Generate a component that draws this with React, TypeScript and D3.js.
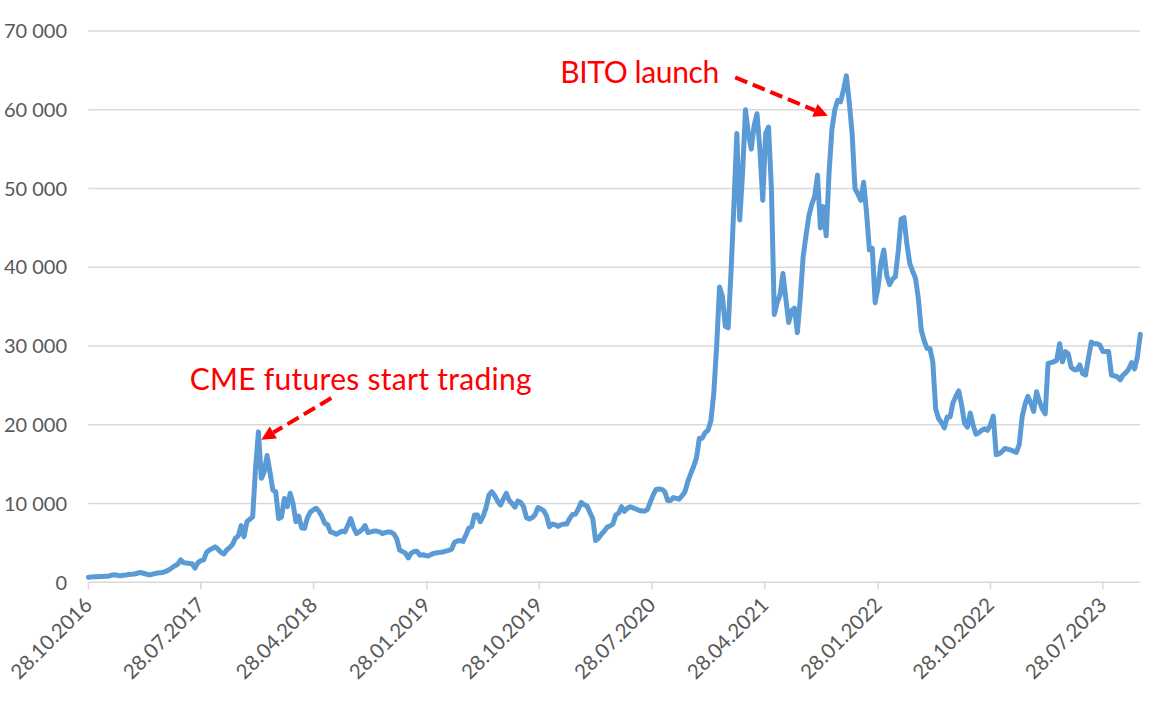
import React from "react";
import * as d3 from "d3";

// Weekly series, first point on 28.10.2016, one point every 7 days
const START_DATE = "2016-10-28";
const PRICES: number[] = [
  // 2016
  650, 680, 700, 720, 740, 750, 770, 780, 900, 960,
  // 2017
  900, 820, 900, 920, 1000, 1020, 1050, 1150, 1250, 1150,
  1050, 950, 1000, 1100, 1180, 1200, 1280, 1400, 1600, 1850,
  2100, 2300, 2850, 2500, 2450, 2400, 2350, 1800, 2500, 2750,
  2850, 3800, 4100, 4300, 4500, 4200, 3800, 3600, 4100, 4400,
  4800, 5600, 5900, 7200, 5800, 7700, 8000, 8300, 14500, 19100,
  // 2018
  13200, 14000, 16100, 14000, 11700, 11500, 8100, 8300, 10650, 9600,
  11300, 10000, 7700, 8400, 6900, 6850, 8200, 8900, 9200, 9400,
  9000, 8400, 7500, 7300, 6400, 6300, 6100, 6300, 6500, 6400,
  7200, 8100, 7000, 6200, 6400, 6700, 7200, 6300, 6400, 6500,
  6500, 6400, 6200, 6300, 6400, 6350, 6150, 5500, 4100, 3900,
  3700, 3100, 3700, 3900, 3950, 3450, 3500, 3400, 3350, 3550,
  // 2019
  3700, 3750, 3800, 3850, 3950, 4050, 4200, 5050, 5250, 5300,
  5200, 6000, 6900, 7050, 8550, 8550, 7700, 8400, 9500, 11100,
  11500, 11000, 10300, 9800, 10600, 11300, 10400, 10000, 9550, 10300,
  10150, 9600, 8200, 8050, 8200, 8600, 9500, 9300, 9100, 8400,
  7050, 7400, 7300, 7100, 7300, 7400, 7400, 8100, 8600, 8650,
  // 2020
  9300, 10150, 9850, 9700, 8900, 8100, 5300, 5600, 6100, 6500,
  7000, 7150, 7400, 8550, 8800, 9600, 9000, 9400, 9600, 9450,
  9300, 9150, 9050, 9050, 9250, 10200, 11100, 11800, 11850, 11800,
  11500, 10400, 10400, 10750, 10650, 10550, 11000, 11500, 12800, 13800,
  14700, 15800, 18300, 18300, 19000, 19300, 20500, 24000, 30000, 37500,
  // 2021
  36300, 32500, 32300, 39500, 48000, 57000, 46000, 52000, 60000, 57000,
  55000, 58000, 59500, 55000, 48500, 57000, 57800, 50000, 34000, 35500,
  36500, 39200, 36000, 33000, 34500, 34800, 31700, 36000, 41300, 44000,
  46500, 48000, 49000, 51700, 45000, 47700, 44000, 52000, 57500, 60000,
  61200, 61000, 62500, 64300, 61000, 57000, 50000, 49300, 48500, 50800,
  // 2022
  47000, 42200, 42400, 35500, 37500, 40500, 42200, 39000, 37800, 38500,
  38800, 42000, 46100, 46300, 43000, 40500, 39500, 38600, 36000, 32000,
  30700, 29700, 29700, 28000, 22000, 20800, 20300, 19600, 21000, 21000,
  22800, 23600, 24300, 22500, 20200, 19700, 21500, 19900, 18800, 19000,
  19300, 19500, 19300, 20000, 21100, 16200, 16300, 16600, 17000, 16900,
  16800, 16650, 16500, 17500,
  // 2023
  21000, 22600, 23600, 22800, 21700, 24200, 23000, 22000, 21400, 27800,
  27900, 28000, 28200, 30300, 28000, 29300, 29000, 27300, 27000, 27000,
  27600, 26500, 26300, 28500, 30500, 30300, 30300, 30100, 29300, 29300,
  29300, 26300, 26200, 26100, 25700, 26300, 26600, 27100, 27900, 27100,
  28600, 31500,
];

const Y_TICKS = [0, 10000, 20000, 30000, 40000, 50000, 60000, 70000];
const X_TICK_LABELS = [
  "28.10.2016", "28.07.2017", "28.04.2018", "28.01.2019", "28.10.2019",
  "28.07.2020", "28.04.2021", "28.01.2022", "28.10.2022", "28.07.2023",
];

// annotations in data coordinates: [date, value]
const ANNOTATIONS = [
  {
    text: "CME futures start trading",
    textAt: ["2017-07-01", 24470],
    textWidth: 342,
    tail: ["2018-06-10", 23400],
    tip: ["2017-12-22", 18100],
  },
  {
    text: "BITO launch",
    textAt: ["2019-12-18", 63450],
    textWidth: 159,
    tail: ["2021-02-15", 64120],
    tip: ["2021-09-28", 59240],
  },
];

const parseIso = d3.utcParse("%Y-%m-%d");
const parseLabel = d3.utcParse("%d.%m.%Y");

export default function App() {
  const W = 1176;
  const H = 709;
  const left = 88.4;
  const right = 1140.3;
  const top = 31;
  const bottom = 582.3;

  const start = parseIso(START_DATE) as Date;
  const data = PRICES.map((v, i) => ({ date: d3.utcDay.offset(start, i * 7), value: v }));

  const x = d3
    .scaleUtc()
    .domain([data[0].date, data[data.length - 1].date])
    .range([left, right]);
  const y = d3.scaleLinear().domain([0, 70000]).range([bottom, top]);

  const line = d3
    .line<{ date: Date; value: number }>()
    .x((d) => x(d.date))
    .y((d) => y(d.value))
    .curve(d3.curveLinear);

  const fmt = (v: number) => d3.format(",")(v).replace(/,/g, " ");
  const font = "Lato, 'Open Sans', sans-serif";
  const grid = "#D9D9D9";
  const red = "#FF0000";

  const pt = (p: (string | number)[]) => [x(parseIso(p[0] as string) as Date), y(p[1] as number)];

  return (
    <div style={{ position: "absolute", left: 0, top: 0 }}>
      <svg width={W} height={H} style={{ display: "block", background: "#fff" }}>
        {Y_TICKS.map((t) => (
          <g key={t}>
            {t !== 0 && (
              <line x1={left} x2={right} y1={y(t)} y2={y(t)} stroke={grid} strokeWidth={1.5} />
            )}
            <text
              x={67}
              y={y(t)}
              dy="0.36em"
              textAnchor="end"
              fontFamily={font}
              fontSize={20}
              fill="#595959"
            >
              {fmt(t)}
            </text>
          </g>
        ))}
        <line x1={left} x2={right} y1={bottom} y2={bottom} stroke={grid} strokeWidth={1.5} />
        {X_TICK_LABELS.map((lab) => {
          const xx = x(parseLabel(lab) as Date);
          return (
            <g key={lab}>
              <line x1={xx} x2={xx} y1={bottom} y2={bottom + 7} stroke={grid} strokeWidth={1.5} />
              <text
                transform={`translate(${xx + 5},${bottom + 24}) rotate(-45)`}
                textAnchor="end"
                fontFamily={font}
                fontSize={20.5}
                fill="#595959"
              >
                {lab}
              </text>
            </g>
          );
        })}
        <path d={line(data) || ""} fill="none" stroke="#5B9BD5" strokeWidth={5} strokeLinejoin="round" strokeLinecap="round" />
        {ANNOTATIONS.map((a) => {
          const [tx, ty] = pt(a.textAt);
          const [x0, y0] = pt(a.tail);
          const [x1, y1] = pt(a.tip);
          const dx = x1 - x0;
          const dy = y1 - y0;
          const len = Math.sqrt(dx * dx + dy * dy);
          const ux = dx / len;
          const uy = dy / len;
          const headL = 14;
          const headW = 7;
          const bx = x1 - ux * headL;
          const by = y1 - uy * headL;
          const head = [
            [x1, y1],
            [bx - uy * headW, by + ux * headW],
            [bx + uy * headW, by - ux * headW],
          ]
            .map((p) => p.join(","))
            .join(" ");
          return (
            <g key={a.text}>
              <text
                x={tx}
                y={ty}
                fontFamily={font}
                fontSize={30}
                fill={red}
                textLength={a.textWidth}
                lengthAdjust="spacing"
              >
                {a.text}
              </text>
              <line x1={x0} y1={y0} x2={bx} y2={by} stroke={red} strokeWidth={4} strokeDasharray="13 6" />
              <polygon points={head} fill={red} />
            </g>
          );
        })}
      </svg>
    </div>
  );
}
